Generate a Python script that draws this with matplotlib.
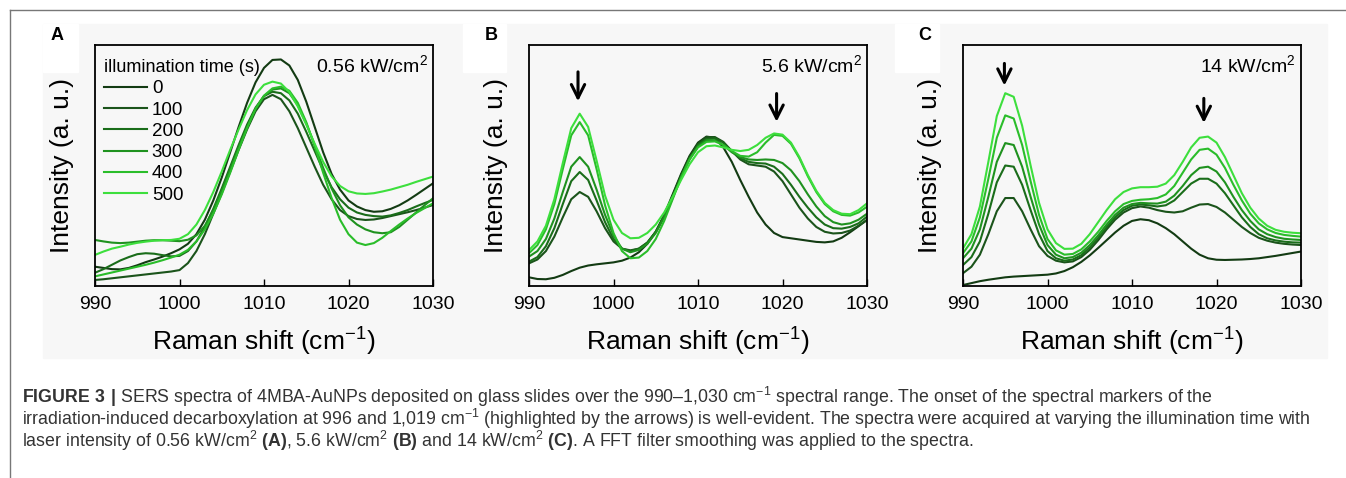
import numpy as np
import matplotlib.pyplot as plt
from matplotlib import font_manager
from matplotlib.patches import Rectangle

names = {f.name for f in font_manager.fontManager.ttflist}
narrow = 'Liberation Sans Narrow' if 'Liberation Sans Narrow' in names else 'Liberation Sans'

plt.rcParams['font.family'] = ['Liberation Sans', 'DejaVu Sans']
plt.rcParams['mathtext.fontset'] = 'custom'
plt.rcParams['mathtext.rm'] = 'Liberation Sans'
plt.rcParams['mathtext.bf'] = 'Liberation Sans:bold'

# Raman shift grid (cm-1)
shift = np.arange(990, 1031)
times = ['0', '100', '200', '300', '400', '500']
colors = ['#133b13', '#1b541b', '#1a6d1a', '#1f921f', '#2abd2a', '#3ddf3d']

# Panel A: 0.56 kW/cm2 (a. u.)
a_0 = [8.0, 7.5, 7.0, 6.9, 7.5, 8.6, 9.9, 11.0, 12.2, 13.6, 15.2, 17.5, 21.5, 27.5, 35.5, 45.0, 55.5, 66.0, 76.0, 84.5,
       90.5, 93.8, 94.0, 91.5, 85.5, 76.5, 66.0, 55.5, 46.5, 40.0, 35.5, 33.0, 31.5, 30.8, 31.0, 32.0, 33.5, 35.5, 37.8, 40.2, 42.6]
a_100 = [2.5, 2.8, 3.2, 3.6, 4.0, 4.4, 4.8, 5.2, 5.6, 6.0, 6.6, 9.5, 14.5, 21.5, 30.0, 38.5, 47.5, 56.5, 65.0, 72.5,
         77.5, 79.3, 77.5, 72.5, 65.5, 57.5, 49.5, 42.0, 36.0, 31.5, 29.0, 27.8, 27.4, 27.6, 28.2, 29.0, 29.8, 30.6, 31.5, 32.5, 33.6]
a_200 = [5.5, 7.0, 8.8, 10.6, 12.0, 13.2, 13.6, 13.4, 12.8, 12.3, 12.5, 14.5, 18.5, 24.5, 32.0, 40.5, 49.5, 58.5, 67.0, 74.0,
         78.8, 80.6, 80.0, 77.0, 71.5, 64.0, 56.0, 48.0, 41.0, 36.0, 32.5, 30.5, 29.5, 29.0, 28.8, 29.3, 30.3, 31.5, 33.0, 34.4, 35.7]
a_300 = [19.1, 18.5, 18.0, 17.8, 18.0, 18.4, 18.8, 19.0, 19.0, 18.8, 18.6, 19.2, 21.0, 25.0, 31.5, 39.5, 48.5, 57.5, 66.0, 73.5,
         78.8, 81.5, 82.0, 80.0, 75.0, 67.5, 58.5, 49.0, 40.5, 33.5, 28.5, 25.5, 23.5, 22.3, 21.9, 22.3, 24.5, 27.5, 30.5, 33.5, 36.4]
a_400 = [4.0, 4.8, 5.6, 6.4, 7.2, 8.0, 8.8, 9.7, 10.7, 11.8, 13.0, 15.0, 18.5, 23.5, 30.0, 38.0, 47.0, 56.5, 65.5, 73.5,
         79.0, 82.0, 82.7, 81.0, 76.0, 68.0, 58.0, 47.0, 36.5, 27.5, 21.5, 18.0, 17.0, 17.8, 20.0, 22.8, 25.5, 28.0, 30.3, 32.3, 34.3]
a_500 = [12.9, 14.3, 15.5, 16.3, 17.2, 17.9, 18.4, 18.8, 19.0, 19.1, 19.6, 21.5, 25.5, 31.5, 39.0, 47.5, 56.5, 65.0, 73.0, 79.5,
         83.5, 84.8, 84.0, 80.5, 74.5, 67.0, 59.0, 51.5, 45.5, 41.5, 39.3, 38.4, 38.2, 38.5, 39.2, 40.0, 41.0, 42.0, 43.2, 44.3, 45.4]

# Panel B: 5.6 kW/cm2
b_0 = [3.6, 2.9, 2.8, 3.4, 4.6, 6.2, 7.6, 8.5, 9.0, 9.4, 9.8, 10.5, 11.8, 14.0, 17.5, 22.5, 29.5, 38.0, 46.5, 54.0,
       59.5, 62.0, 61.5, 57.5, 51.5, 44.0, 37.0, 30.5, 25.5, 22.0, 20.3, 19.8, 19.3, 18.8, 18.3, 18.1, 18.5, 20.0, 22.3, 24.8, 27.4]
b_100 = [9.4, 11.0, 14.5, 20.5, 28.5, 36.0, 39.0, 37.0, 31.0, 24.0, 18.5, 15.5, 14.8, 15.5, 18.0, 22.5, 29.0, 37.5, 46.0, 53.5,
         59.0, 61.8, 61.8, 59.8, 56.0, 52.5, 50.5, 50.0, 49.5, 47.5, 43.5, 38.0, 32.5, 28.0, 24.5, 22.5, 21.8, 22.0, 23.0, 25.0, 27.4]
b_200 = [10.1, 12.0, 16.5, 24.0, 34.0, 43.5, 47.3, 44.0, 35.5, 26.5, 19.5, 15.5, 14.5, 15.5, 18.0, 22.5, 29.0, 37.0, 45.5, 53.0,
         58.5, 61.0, 61.3, 59.5, 56.0, 53.0, 51.5, 51.0, 50.8, 49.5, 46.5, 42.0, 37.0, 32.5, 28.5, 25.5, 24.0, 23.8, 24.5, 26.0, 28.8]
b_300 = [12.2, 14.5, 19.5, 28.0, 39.0, 49.5, 53.5, 49.5, 40.0, 29.5, 21.0, 15.5, 14.0, 15.0, 17.5, 22.0, 28.5, 36.5, 45.0, 52.5,
         58.0, 60.5, 60.5, 58.5, 55.5, 53.5, 52.5, 52.3, 52.5, 52.3, 51.0, 48.0, 43.5, 38.0, 33.0, 29.0, 26.5, 25.5, 26.0, 27.5, 30.0]
b_400 = [13.6, 17.0, 23.5, 34.0, 48.5, 62.5, 68.0, 62.5, 48.5, 33.5, 22.0, 14.5, 11.5, 11.8, 14.5, 19.5, 27.0, 36.0, 45.0, 52.5,
         57.5, 59.8, 60.0, 58.5, 56.0, 54.0, 53.7, 55.5, 59.5, 62.7, 62.3, 59.0, 53.0, 45.5, 39.0, 34.0, 31.0, 29.5, 29.2, 30.5, 32.9]
b_500 = [14.9, 18.5, 25.0, 36.0, 51.0, 65.5, 71.5, 66.0, 52.0, 37.5, 27.5, 22.0, 19.8, 20.0, 22.0, 25.5, 30.5, 37.0, 44.0, 50.5,
         55.5, 58.0, 58.3, 57.5, 56.5, 56.0, 56.5, 58.5, 61.5, 63.3, 62.8, 59.5, 53.5, 46.0, 39.5, 34.5, 31.5, 30.0, 29.8, 31.5, 34.3]

# Panel C: 14 kW/cm2
c_0 = [0.4, 1.2, 2.0, 2.6, 3.1, 3.6, 3.9, 4.1, 4.3, 4.5, 4.7, 5.2, 6.2, 7.8, 10.0, 12.7, 15.8, 19.0, 22.2, 25.0,
       27.0, 27.7, 27.3, 26.0, 24.0, 21.5, 18.5, 15.5, 13.0, 11.5, 10.9, 10.8, 10.9, 11.0, 11.2, 11.5, 12.0, 12.5, 13.1, 13.7, 14.3]
c_100 = [5.3, 8.0, 13.0, 21.5, 31.0, 36.5, 36.5, 31.0, 23.5, 16.5, 12.5, 10.5, 9.8, 10.2, 12.0, 15.0, 19.0, 23.5, 27.5, 30.5,
         32.3, 33.0, 32.5, 31.5, 30.8, 30.5, 31.0, 32.5, 33.8, 34.0, 32.8, 30.5, 27.5, 24.5, 22.0, 20.0, 18.8, 18.0, 17.5, 17.2, 17.0]
c_200 = [8.7, 12.0, 18.5, 30.0, 43.0, 50.0, 49.5, 42.0, 31.5, 21.5, 14.5, 11.5, 10.5, 11.0, 12.8, 16.0, 20.0, 24.5, 28.5, 31.5,
         33.3, 33.8, 33.5, 33.0, 33.5, 35.5, 39.0, 42.5, 44.5, 44.5, 42.5, 38.5, 33.5, 28.5, 24.5, 21.5, 19.8, 18.9, 18.4, 18.1, 18.0]
c_300 = [11.5, 15.5, 23.5, 37.0, 51.5, 59.3, 58.5, 49.5, 37.0, 25.5, 17.0, 13.0, 11.5, 12.0, 13.8, 17.0, 21.0, 25.5, 29.5, 32.5,
         34.0, 34.5, 34.3, 34.2, 35.0, 37.5, 41.5, 46.0, 49.0, 49.5, 47.5, 43.0, 37.0, 31.5, 27.0, 23.5, 21.5, 20.3, 19.6, 19.3, 19.1]
c_400 = [13.6, 18.5, 28.5, 44.5, 61.5, 70.8, 69.5, 58.5, 43.5, 29.5, 19.5, 14.8, 13.0, 13.3, 15.2, 18.5, 22.5, 27.0, 31.0, 34.0,
         35.3, 35.8, 36.0, 36.5, 38.0, 41.5, 47.0, 52.5, 56.5, 57.0, 54.5, 49.0, 42.0, 35.5, 30.0, 26.0, 23.5, 22.0, 21.2, 20.8, 20.5]
c_500 = [15.6, 21.5, 33.0, 51.5, 70.5, 80.0, 78.5, 66.5, 50.0, 34.5, 23.5, 17.8, 15.4, 15.5, 17.5, 21.5, 26.5, 31.5, 36.0, 39.0,
         40.5, 41.0, 41.0, 41.2, 42.5, 46.0, 51.5, 57.5, 61.5, 62.0, 59.5, 53.5, 46.0, 38.5, 32.5, 28.0, 25.0, 23.3, 22.5, 22.1, 21.9]

panels = [
    ('A', '0.56 kW/cm$^2$', [a_0, a_100, a_200, a_300, a_400, a_500], []),
    ('B', '5.6 kW/cm$^2$', [b_0, b_100, b_200, b_300, b_400, b_500], [(995.8, 90.0, 75.5), (1019.3, 81.0, 67.0)]),
    ('C', '14 kW/cm$^2$', [c_0, c_100, c_200, c_300, c_400, c_500], [(994.9, 93.5, 82.0), (1018.5, 79.0, 66.5)]),
]

W, H = 1346, 478
fig = plt.figure(figsize=(W / 100, H / 100), dpi=100)

# light grey panel backdrop and white boxes behind panel letters
bg = '#f7f7f7'
fig.patches.append(Rectangle((43 / W, 1 - 358 / H), (1327 - 43) / W, (358 - 24) / H,
                             transform=fig.transFigure, color=bg, zorder=-2))
for x0, x1 in [(43, 78), (463, 506), (895, 939)]:
    fig.patches.append(Rectangle((x0 / W, 1 - 72 / H), (x1 - x0) / W, 48 / H,
                                 transform=fig.transFigure, color='white', zorder=-1))

# page frame (top and left rules)
fig.add_artist(plt.Line2D([10 / W, 1], [1 - 10 / H, 1 - 10 / H], transform=fig.transFigure, color='#777777', lw=1))
fig.add_artist(plt.Line2D([10 / W, 10 / W], [0, 1 - 10 / H], transform=fig.transFigure, color='#777777', lw=1))

lefts = [95, 529, 963]
for (letter, label, series, arrows), left in zip(panels, lefts):
    ax = fig.add_axes([left / W, 1 - 286 / H, 338 / W, 241 / H])
    ax.set_facecolor(bg)
    for y, c, t in zip(series, colors, times):
        ax.plot(shift, y, color=c, lw=1.5, label=t)
    ax.set_xlim(990, 1030)
    ax.set_ylim(0, 100)
    ax.set_xticks([990, 1000, 1010, 1020, 1030])
    ax.set_yticks([])
    ax.tick_params(axis='x', direction='in', length=5, width=1, labelsize=14, pad=7)
    for s in ax.spines.values():
        s.set_linewidth(1.3)
    ax.set_xlabel('Raman shift (cm$^{-1}$)', fontsize=19, labelpad=8)
    ax.set_ylabel('Intensity (a. u.)', fontsize=19, labelpad=15)
    ax.text(0.985, 0.915, label, transform=ax.transAxes, ha='right', va='center', fontsize=14)
    for x, y0, y1 in arrows:
        ax.annotate('', xy=(x, y1), xytext=(x, y0),
                    arrowprops=dict(arrowstyle='->', lw=2.2, color='black', mutation_scale=24))
    fig.text((left - 38) / W, 1 - 35 / H, letter, fontsize=13, fontweight='bold', ha='center', va='center')
    if letter == 'A':
        leg = ax.legend(title='illumination time (s)', loc='upper left', bbox_to_anchor=(-0.015, 1.0),
                        frameon=False, fontsize=13.5, title_fontsize=13, handlelength=2.3,
                        handletextpad=0.25, labelspacing=0.22, borderaxespad=0.35, alignment='left')

cap = '#333333'
lines = [
    r'$\mathbf{FIGURE\ 3\ |}$ SERS spectra of 4MBA-AuNPs deposited on glass slides over the 990–1,030 cm$^{-1}$ spectral range. The onset of the spectral markers of the',
    r'irradiation-induced decarboxylation at 996 and 1,019 cm$^{-1}$ (highlighted by the arrows) is well-evident. The spectra were acquired at varying the illumination time with',
    r'laser intensity of 0.56 kW/cm$^2$ $\mathbf{(A)}$, 5.6 kW/cm$^2$ $\mathbf{(B)}$ and 14 kW/cm$^2$ $\mathbf{(C)}$. A FFT filter smoothing was applied to the spectra.',
]
for i, t in enumerate(lines):
    fig.text(22 / W, 1 - (397 + 22 * i) / H, t, fontsize=12.8, family=narrow, color=cap, va='center', ha='left')

fig.savefig('out.png', dpi=100)
